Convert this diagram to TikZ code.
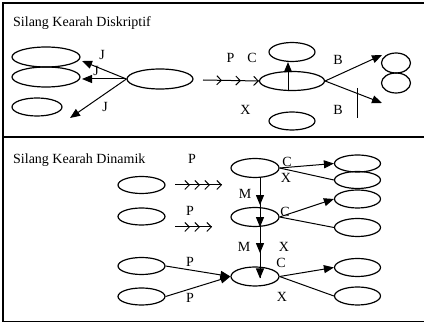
\documentclass[tikz,border=0pt]{standalone}
\usepackage{fontspec}
\setmainfont{Liberation Serif}
\usetikzlibrary{shapes.geometric,arrows.meta,decorations.markings}
\tikzset{cb/.tip={Straight Barb[length=4.5pt,width=9pt]},
  tr/.tip={Triangle[length=10pt,width=8pt]}}
\begin{document}
\begin{tikzpicture}[x=1pt,y=-1pt,
  ell/.style={draw,ellipse,line width=1.2pt,inner sep=0pt},
  lbl/.style={font=\fontsize{14}{16}\selectfont,inner sep=0pt},
  ttl/.style={font=\fontsize{14}{16}\selectfont,inner sep=0pt,anchor=base west},
  arr/.style={line width=1pt,-{tr}},
  plain/.style={line width=1pt},
  frame/.style={line width=1.5pt},
]
\useasboundingbox (0,0) rectangle (424,323);
% frame
\draw[frame] (424,3) -- (3,3) -- (3,321.5) -- (424,321.5);
\draw[frame] (3,137) -- (424,137);

% ---------- top panel ----------
\node[ttl] (t1) at (13,27) {Silang Kearah Diskriptif};
\node[ell,minimum width=68pt,minimum height=20pt] (e1) at (46,57) {};
\node[ell,minimum width=68pt,minimum height=20pt] (e2) at (46,77) {};
\node[ell,minimum width=50pt,minimum height=18pt] (e3) at (37,107) {};
\node[ell,minimum width=66pt,minimum height=20pt] (e4) at (160,79) {};
\node[ell,minimum width=65pt,minimum height=19pt] (e5) at (292,81) {};
\node[ell,minimum width=46pt,minimum height=19pt] (e6) at (292,52) {};
\node[ell,minimum width=46pt,minimum height=18pt] (e7) at (292,121) {};
\node[ell,minimum width=29pt,minimum height=20pt] (f1) at (396,63) {};
\node[ell,minimum width=29pt,minimum height=20pt] (f2) at (396,83) {};

\coordinate (j1) at (82,61);
\coordinate (j2) at (82,79);
\coordinate (j3) at (70,118);
\draw[arr] (e4.west) -- (j1);
\draw[arr] (e4.west) -- (j2);
\draw[arr] (e4.west) -- (j3);
\node[lbl] (lj1) at (102,55) {J};
\node[lbl] (lj2) at (96,71) {J};
\node[lbl] (lj3) at (105,107) {J};

\coordinate (c0) at (203,80);
\draw[line width=1pt,postaction={decorate},
  decoration={markings,
    mark=at position 19pt with {\arrow{cb}},
    mark=at position 38pt with {\arrow{cb}},
    mark=at position 1 with {\arrow{cb}}}] (c0) -- (e5.west);
\node[lbl] (lp) at (230.5,57.5) {P};
\node[lbl] (lc) at (252,57.5) {C};
\node[lbl] (lx) at (245.5,110) {X};

\draw[arr] ([xshift=-4pt]e5.south) -- ([xshift=-4pt]e6.south);

\coordinate (b1) at (382,55);
\coordinate (b2) at (382,103);
\draw[arr] (e5.east) -- (b1);
\draw[arr] (e5.east) -- (b2);
\node[lbl] (lb1) at (338,59.5) {B};
\node[lbl] (lb2) at (338,110) {B};
\coordinate (v1) at (357,88);
\coordinate (v2) at (357,118);
\draw[plain] (v1) -- (v2);

% ---------- bottom panel ----------
\node[ttl] (t2) at (13,163.5) {Silang Kearah Dinamik};
\node[lbl] (pt) at (192,159) {P};

\node[ell,minimum width=47pt,minimum height=17pt] (l1) at (141.5,185) {};
\node[ell,minimum width=47pt,minimum height=17pt] (l2) at (141.5,216.5) {};
\node[ell,minimum width=47pt,minimum height=17pt] (l3) at (141.5,266) {};
\node[ell,minimum width=47pt,minimum height=17pt] (l4) at (141.5,296.5) {};

\node[ell,minimum width=48pt,minimum height=19pt] (m1) at (255,168) {};
\node[ell,minimum width=48pt,minimum height=19pt] (m2) at (255,217) {};
\node[ell,minimum width=48pt,minimum height=19pt] (m3) at (255,276.5) {};

\node[ell,minimum width=46pt,minimum height=17pt] (r1) at (357.5,163.5) {};
\node[ell,minimum width=46pt,minimum height=17pt] (r2) at (357.5,180) {};
\node[ell,minimum width=46pt,minimum height=18pt] (r3) at (357.5,199) {};
\node[ell,minimum width=46pt,minimum height=18pt] (r4) at (357.5,227.5) {};
\node[ell,minimum width=46pt,minimum height=18pt] (r5) at (357.5,267.5) {};
\node[ell,minimum width=46pt,minimum height=18pt] (r6) at (357.5,296) {};

% chevron rows
\coordinate (a0) at (175,185);
\coordinate (a1) at (222,185);
\draw[line width=1pt,postaction={decorate},
  decoration={markings,
    mark=at position 15pt with {\arrow{cb}},
    mark=at position 25pt with {\arrow{cb}},
    mark=at position 35pt with {\arrow{cb}},
    mark=at position 1 with {\arrow{cb}}}] (a0) -- (a1);
\coordinate (d0) at (175,227);
\coordinate (d1) at (212,227);
\draw[line width=1pt,postaction={decorate},
  decoration={markings,
    mark=at position 15pt with {\arrow{cb}},
    mark=at position 25pt with {\arrow{cb}},
    mark=at position 1 with {\arrow{cb}}}] (d0) -- (d1);
\node[lbl] (p2) at (190,211) {P};

% vertical M arrows
\draw[line width=1pt,postaction={decorate},
  decoration={markings,
    mark=at position 27pt with {\arrow{tr}},
    mark=at position 1 with {\arrow{tr}}}]
  ([xshift=5pt]m1.south) -- ([xshift=5pt]m2.south);
\draw[line width=1pt,postaction={decorate},
  decoration={markings,
    mark=at position 26pt with {\arrow{tr}},
    mark=at position 1 with {\arrow{tr}}}]
  ([xshift=5pt]m2.south) -- ([xshift=5pt,yshift=-2pt]m3.center);
\node[lbl] (lm1) at (245,194) {M};
\node[lbl] (lm2) at (244,246.5) {M};

% right fans
\draw[arr] (m1.east) -- (r1.west);
\draw[plain] (m1.east) -- (r2.west);
\draw[arr] (m2.east) -- (r3.west);
\draw[plain] (m2.east) -- (r4.west);
\draw[arr] (m3.east) -- (r5.west);
\draw[plain] (m3.east) -- (r6.west);
\node[lbl] (c1) at (287,161.5) {C};
\node[lbl] (x1) at (286,178) {X};
\node[lbl] (c2) at (285,211.5) {C};
\node[lbl] (x2) at (284,246.5) {X};
\node[lbl] (c3) at (281,263) {C};
\node[lbl] (x3) at (282,297) {X};

% left inputs
\draw[arr] (l3.east) -- (m3.west);
\draw[arr] (l4.east) -- (m3.west);
\node[lbl] (p3) at (190,262) {P};
\node[lbl] (p4) at (190,297.5) {P};
\end{tikzpicture}
\end{document}
